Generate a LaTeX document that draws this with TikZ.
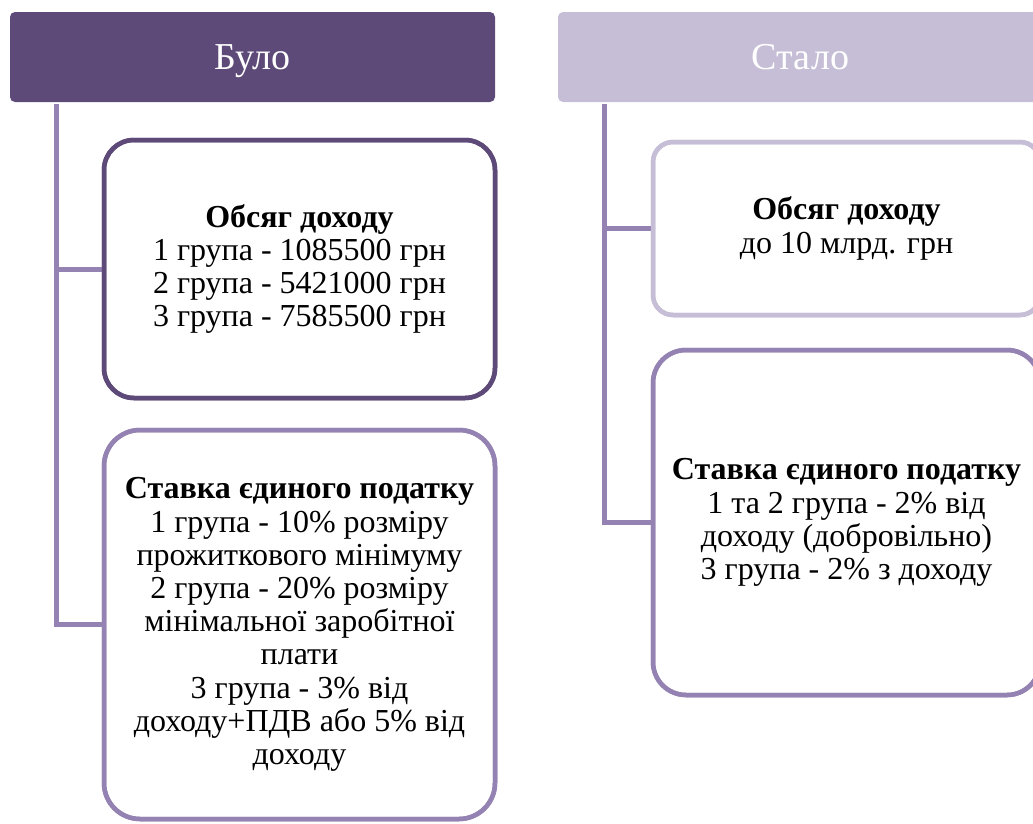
\documentclass[tikz,border=0pt]{standalone}
\usepackage{fontspec}
\setmainfont{Liberation Serif}
\definecolor{darkp}{HTML}{5E4A78}
\definecolor{midp}{HTML}{9482B2}
\definecolor{lightp}{HTML}{C6BED6}
\begin{document}
\begin{tikzpicture}[x=1pt,y=-1pt,
  hdr/.style={rectangle, rounded corners=5pt, inner sep=0pt, minimum width=485pt, minimum height=90pt, text=white, text height=25pt, text depth=0pt, font=\fontsize{38}{40}\selectfont},
  box/.style={rectangle, draw, line width=4.5pt, fill=white, inner sep=0pt, align=center, text=black, font=\fontsize{32}{33.2}\selectfont},
  conn/.style={draw=midp, line width=5pt}]
\useasboundingbox (0,0) rectangle (1033,823);
\begin{scope}
\clip (0,0) rectangle (1033,823);
% headers
\node[hdr, fill=darkp] (h1) at (252.5,57) {Було};
\node[hdr, fill=lightp] (h2) at (800.5,57) {Стало};
% spine tops
\coordinate (s1) at (56,104);
\coordinate (s2) at (604,104);
% boxes
\node[box, draw=darkp, rounded corners=30pt, minimum width=391pt, minimum height=258pt] (b1) at (299.5,269) {\textbf{Обсяг доходу}\\1 група - 1085500 грн\\2 група - 5421000 грн\\3 група - 7585500 грн};
\node[box, draw=midp, rounded corners=36pt, minimum width=391pt, minimum height=389pt] (b2) at (299.5,624.5) {\textbf{Ставка єдиного податку}\\1 група - 10\% розміру\\прожиткового мінімуму\\2 група - 20\% розміру\\мінімальної заробітної\\плати\\3 група - 3\% від\\доходу+ПДВ або 5\% від\\доходу};
\node[box, draw=lightp, rounded corners=20pt, minimum width=387pt, minimum height=173pt] (b3) at (846.5,228.5) {\textbf{Обсяг доходу}\\до 10 млрд. грн};
\node[box, draw=midp, rounded corners=33pt, minimum width=387pt, minimum height=345pt] (b4) at (846.5,522.5) {\textbf{Ставка єдиного податку}\\1 та 2 група - 2\% від\\доходу (добровільно)\\3 група - 2\% з доходу};
% connectors
\draw[conn] (s1) |- (b1.west);
\draw[conn] (s1) |- (b2.west);
\draw[conn] (s2) |- (b3.west);
\draw[conn] (s2) |- (b4.west);
% redraw box borders over connector ends
\node[box, draw=darkp, fill=none, rounded corners=30pt, minimum width=391pt, minimum height=258pt] at (b1) {};
\node[box, draw=midp, fill=none, rounded corners=36pt, minimum width=391pt, minimum height=389pt] at (b2) {};
\node[box, draw=lightp, fill=none, rounded corners=20pt, minimum width=387pt, minimum height=173pt] at (b3) {};
\node[box, draw=midp, fill=none, rounded corners=33pt, minimum width=387pt, minimum height=345pt] at (b4) {};
\end{scope}
\end{tikzpicture}
\end{document}
